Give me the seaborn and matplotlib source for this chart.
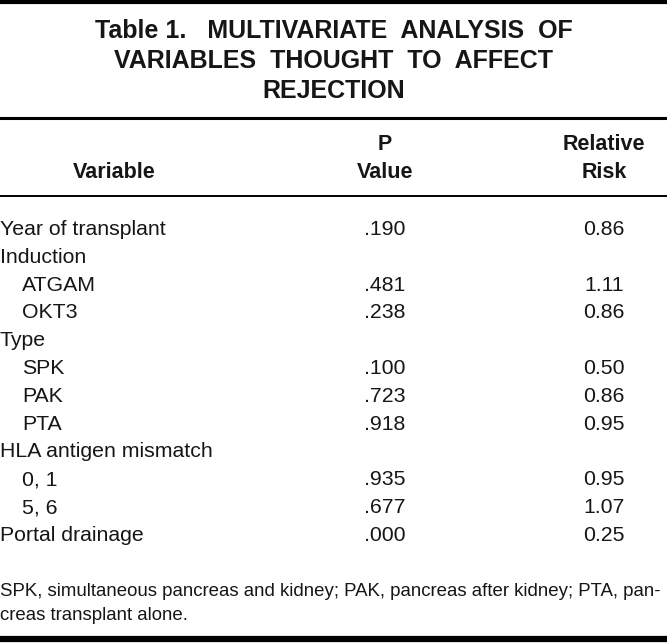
import matplotlib
matplotlib.use("Agg")
import matplotlib.pyplot as plt
import seaborn as sns

# table content
title_lines = ["Table 1.   MULTIVARIATE  ANALYSIS  OF",
               "VARIABLES  THOUGHT  TO  AFFECT",
               "REJECTION"]
header_top = ["", "P", "Relative"]
header_bottom = ["Variable", "Value", "Risk"]
variables = ["Year of transplant", "Induction", "ATGAM", "OKT3", "Type", "SPK", "PAK", "PTA",
             "HLA antigen mismatch", "0, 1", "5, 6", "Portal drainage"]
indented = [False, False, True, True, False, True, True, True, False, True, True, False]
p_values = [".190", "", ".481", ".238", "", ".100", ".723", ".918", "", ".935", ".677", ".000"]
relative_risk = ["0.86", "", "1.11", "0.86", "", "0.50", "0.86", "0.95", "", "0.95", "1.07", "0.25"]
footnote = ["SPK, simultaneous pancreas and kidney; PAK, pancreas after kidney; PTA, pan-",
            "creas transplant alone."]

sns.set_theme(style="white")
plt.rcParams['font.family'] = ['Liberation Sans', 'DejaVu Sans']

W, H = 667, 643
fig = plt.figure(figsize=(W / 100, H / 100), dpi=100)
ax = fig.add_axes([0, 0, 1, 1])
ax.set_xlim(0, W)
ax.set_ylim(H, 0)
ax.axis('off')

ink = '#161616'

# rules
ax.axhline(2, color='black', lw=3.0)
ax.axhline(117.5, color='black', lw=2.2)
ax.axhline(195.5, color='black', lw=1.4)
ax.axhline(639, color='black', lw=4.5)

# title
for i, line in enumerate(title_lines):
    ax.text(334, 31 + i * 30, line, ha='center', va='center', fontsize=18,
            fontweight='bold', color=ink)

# column headers
col_x = [114, 385, 604]
for x, top, bot in zip(col_x, header_top, header_bottom):
    if top:
        ax.text(x, 145, top, ha='center', va='center', fontsize=15.5, fontweight='bold', color=ink)
    ax.text(x, 172, bot, ha='center', va='center', fontsize=15.5, fontweight='bold', color=ink)

# body rows
row0, step = 229.5, 27.8
for i, (v, ind, p, rr) in enumerate(zip(variables, indented, p_values, relative_risk)):
    y = row0 + i * step
    ax.text(22 if ind else 0, y, v, ha='left', va='center', fontsize=15.3, color=ink)
    if p:
        ax.text(col_x[1], y, p, ha='center', va='center', fontsize=15.3, color=ink)
    if rr:
        ax.text(col_x[2], y, rr, ha='center', va='center', fontsize=15.3, color=ink)

# footnote
for i, line in enumerate(footnote):
    ax.text(0, 591 + i * 25, line, ha='left', va='center', fontsize=13.4, color=ink)

fig.savefig("out.png", dpi=100)
